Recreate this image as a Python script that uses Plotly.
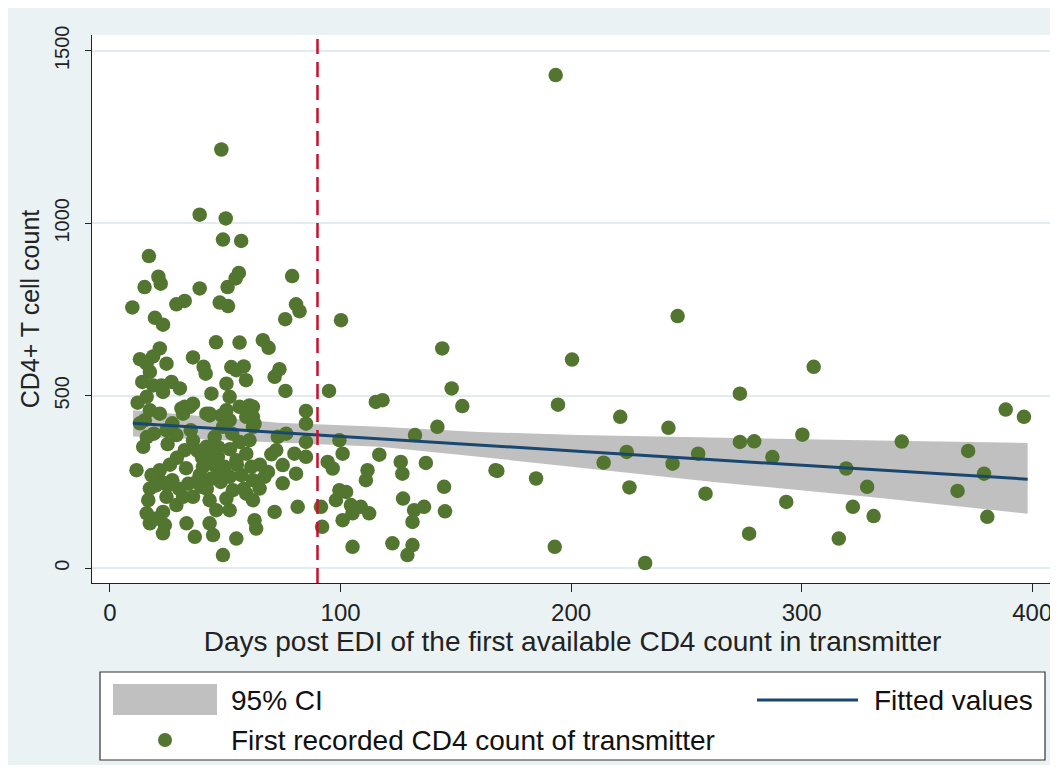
import plotly.graph_objects as go

# ---- Data ----
days = [48.3, 38.9, 50.2, 49, 56.9, 16.9, 55.9, 54.5, 21, 22, 15, 79, 38.9, 51,
        9.7, 28.8, 32.4, 47.6, 51.2, 80.7, 82.2, 76, 19.5, 23, 100.2,
        46, 56.2, 66.3, 68.8, 21.6, 18.7, 13, 36, 40.6, 41.5, 52.6, 58, 59, 73.5, 71.4, 76.1, 95, 85, 17.3,
        15.9, 24.5, 26.7, 18.7, 15.9, 23, 30.3, 17.3, 21.6, 32.4, 36, 43.2, 44, 50.5, 51.9, 54.8, 60.5, 62,
        50.5, 56.2, 22.3, 34.6, 31, 62, 41.8,
        15.1, 24.5, 28.8, 32.4, 14.4, 11.5, 21.6, 22.4, 17.3, 16.6, 15.9, 17.3, 24.5, 28.8, 23.8, 23, 33.2,
        36, 36.8, 38.9, 39.6, 41.8, 43.2, 45.4, 49, 51.9, 46.8, 49.7, 51.9, 53.3, 50.5, 43.2, 46.1, 43.2,
        44.7, 49, 54.8, 59.1, 61.3, 62, 54.8, 56.2, 59.1, 62, 60.5, 62.7, 63.4, 59.1, 62, 67, 68.5, 64.9,
        71.4, 74.9, 74.9, 72.1, 72.8, 76.4, 80, 80.7, 81.4, 85, 85, 85, 40.3, 37.5, 31.7, 23, 20.2, 51.9,
        48.3, 43.2, 31.7, 62.7,
        38, 42, 45, 40, 47, 52, 55, 57, 48, 44, 42, 34, 30, 27, 25, 20, 18, 26, 29, 33, 36, 27, 19, 13, 16,
        12, 14, 25, 35, 47, 53, 58, 65, 70,
        94.4, 96.6, 91.5, 92, 98,
        144.1, 148.2, 115.3, 118.2, 152.8, 142, 132.3, 99.5, 100.9, 116.8, 126.1, 126.8, 137, 167.2, 111.7,
        111, 144.9, 99.5, 102.4, 108.8, 112.4, 104.5, 105.2, 100.9, 127.1, 131.9, 131.2, 136.2, 145.3,
        105.2, 122.5, 131.2, 129,
        193.3, 200.4, 194.3, 168, 184.8, 192.9,
        246.2, 305.2, 273.2, 221.3, 388.5, 396.4, 242.2, 300.3, 343.4, 273.2, 279.4, 372.2, 224.1, 255.1,
        214.1, 244, 287.3, 319.3, 379.1, 225.3, 258.3, 293.3, 328.4, 367.6, 322.2, 331.2, 380.5, 277.2,
        316.1, 232.1]
cd4 = [1214, 1025, 1014, 953, 949, 905, 856, 840, 845, 825, 815, 847, 811, 815,
       756, 765, 775, 770, 760, 765, 745, 722, 726, 706, 719,
       655, 654, 661, 639, 637, 614, 606, 611, 584, 564, 583, 585, 545, 577, 555, 514, 514, 456, 569,
       593, 593, 540, 530, 497, 511, 521, 458, 448, 468, 477, 448, 506, 535, 497, 574, 472, 439,
       458, 468, 530, 468, 463, 468, 448,
       429, 400, 386, 342, 352, 284, 284, 250, 231, 197, 159, 130, 207, 183, 125, 101, 130,
       207, 91, 270, 236, 352, 313, 381, 410, 429, 323, 294, 265, 226, 202, 197, 168, 130,
       96, 38, 86, 332, 294, 255, 313, 366, 439, 410, 371, 139, 115, 216, 197, 265, 279, 231,
       163, 246, 299, 342, 381, 390, 332, 274, 178, 323, 366, 419, 294, 250, 207, 163, 144, 168,
       443, 443, 448, 419,
       340, 330, 300, 320, 350, 345, 300, 270, 250, 260, 230, 245, 230, 255, 240, 240, 270, 300, 320, 290,
       370, 420, 390, 420, 380,
       480, 540, 360, 400, 280, 390, 230, 300, 330,
       308, 289, 178, 120, 197,
       637, 521, 482, 487, 470, 410, 386, 371, 332, 329, 308, 274, 305, 284, 284,
       255, 236, 226, 221, 178, 159, 183, 159, 139, 202, 168, 134, 178, 165,
       62, 72, 67, 38,
       1430, 605, 474, 282, 260, 62,
       731, 584, 506, 439, 460, 439, 407, 387, 367, 366, 368, 340, 337, 332,
       306, 303, 322, 289, 274, 234, 216, 192, 236, 224, 178, 151, 149, 100,
       86, 15]

fit_days = [10, 73, 117, 160, 203, 265, 333, 398]
fit_vals = [420, 393, 375, 357, 339, 313, 285, 258]
ci_low = [382, 364, 352, 323, 292, 248, 204, 158]
ci_high = [458, 422, 410, 395, 386, 378, 370, 363]

cutoff_day = 90
x_ticks = [0, 100, 200, 300, 400]
y_ticks = [0, 500, 1000, 1500]

FONT = "Liberation Sans, Arial, sans-serif"
GREEN = "#527530"
NAVY = "#1A476F"
CI_GREY = "#C0C0C0"
RED = "#C8102E"
OUTER = "#EAF2F3"
GRID = "#E2ECEF"

fig = go.Figure()
fig.add_trace(go.Scatter(x=fit_days, y=ci_low, mode="lines", line=dict(width=0, color=CI_GREY),
                         hoverinfo="skip", showlegend=False))
fig.add_trace(go.Scatter(x=fit_days, y=ci_high, mode="lines", line=dict(width=0, color=CI_GREY),
                         fill="tonexty", fillcolor=CI_GREY, name="95% CI", showlegend=False))
fig.add_trace(go.Scatter(x=days, y=cd4, mode="markers",
                         marker=dict(size=14.5, color=GREEN, line=dict(width=0)),
                         name="First recorded CD4 count of transmitter", showlegend=False))
fig.add_trace(go.Scatter(x=fit_days, y=fit_vals, mode="lines", line=dict(width=3, color=NAVY),
                         name="Fitted values", showlegend=False))

# page body has an 8px margin; screen coordinates below are converted to figure coordinates
OFF = 8
W, H = 1050, 757
ml, mr, mt, mb = 84, 5, 27, 182
pw, ph = W - ml - mr, H - mt - mb


def px(x):
    return (x - OFF - ml) / pw


def py(y):
    return (H - mb - (y - OFF)) / ph


shapes = [
    dict(type="line", xref="x", yref="paper", x0=cutoff_day, x1=cutoff_day, y0=0, y1=1,
         line=dict(color=RED, width=2.5, dash="15px,8px"), layer="above"),
    # legend
    dict(type="rect", xref="paper", yref="paper", x0=px(100), x1=px(1045), y0=py(760), y1=py(672),
         fillcolor="white", line=dict(color="#333333", width=1.2)),
    dict(type="rect", xref="paper", yref="paper", x0=px(113), x1=px(217), y0=py(715), y1=py(684),
         fillcolor=CI_GREY, line=dict(width=0)),
    dict(type="line", xref="paper", yref="paper", x0=px(757), x1=px(858), y0=py(700), y1=py(700),
         line=dict(color=NAVY, width=3)),
    dict(type="circle", xref="paper", yref="paper", x0=px(158), x1=px(172), y0=py(747), y1=py(733),
         fillcolor=GREEN, line=dict(width=0)),
]

LEG_FONT = dict(size=28, color="#111111", family=FONT)
annotations = [
    dict(xref="paper", yref="paper", x=px(229), y=py(700), text="95% CI", showarrow=False,
         xanchor="left", yanchor="middle", font=LEG_FONT),
    dict(xref="paper", yref="paper", x=px(872), y=py(700), text="Fitted values", showarrow=False,
         xanchor="left", yanchor="middle", font=LEG_FONT),
    dict(xref="paper", yref="paper", x=px(229), y=py(740), text="First recorded CD4 count of transmitter",
         showarrow=False, xanchor="left", yanchor="middle", font=LEG_FONT),
]

fig.update_layout(
    width=W, height=H,
    margin=dict(l=ml, r=mr, t=mt, b=mb, pad=0),
    paper_bgcolor=OUTER, plot_bgcolor="white",
    showlegend=False,
    shapes=shapes, annotations=annotations,
    font=dict(family=FONT, color="#222222"),
)
fig.update_xaxes(range=[-7.8, 409], tickvals=x_ticks, ticks="outside", ticklen=8, tickwidth=1.2,
                 tickcolor="#222222", showline=True, linecolor="#222222", linewidth=1.2,
                 showgrid=False, zeroline=False, tickfont=dict(size=24, family=FONT),
                 title=dict(text="Days post EDI of the first available CD4 count in transmitter",
                            font=dict(size=28, family=FONT), standoff=0))
fig.update_yaxes(range=[-43, 1546], tickvals=y_ticks, ticks="outside", ticklen=6, tickwidth=1.2,
                 tickcolor="#222222", showline=True, linecolor="#222222", linewidth=1.2,
                 showgrid=True, gridcolor=GRID, gridwidth=2, zeroline=False, tickangle=-90,
                 ticklabelstandoff=8,
                 tickfont=dict(size=20, family=FONT),
                 title=dict(text="CD4+ T cell count", font=dict(size=25, family=FONT), standoff=4))

fig.write_html("out.html")
